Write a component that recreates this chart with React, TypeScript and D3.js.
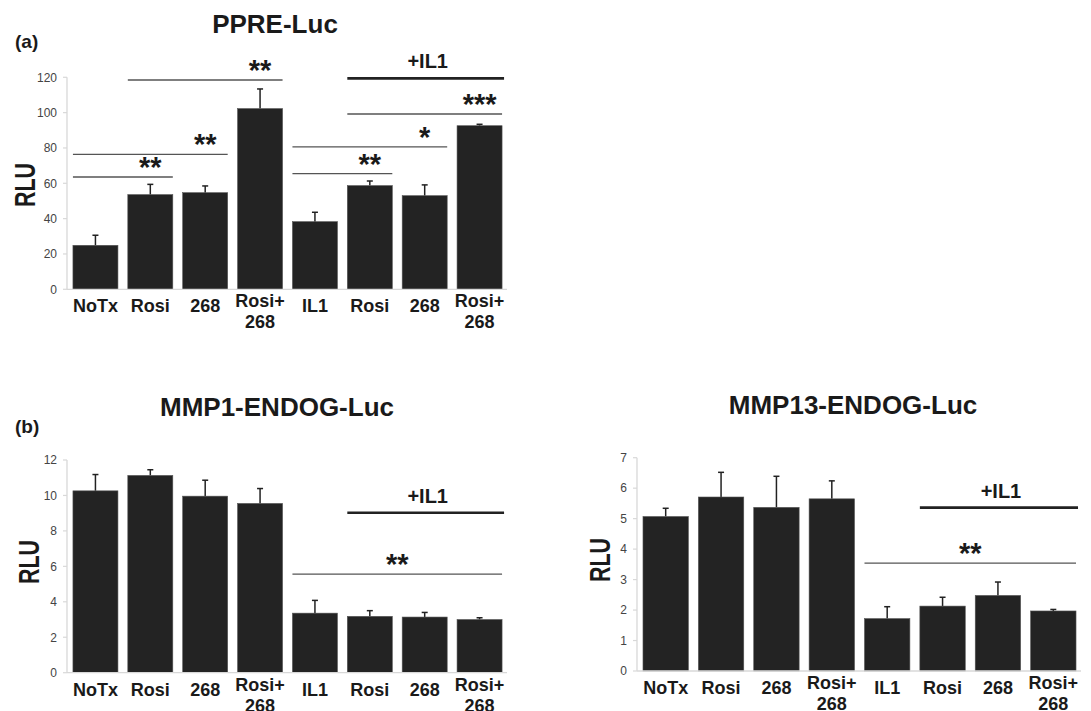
import React from 'react';
import * as d3 from 'd3';

const FONT = '"Liberation Sans", Arial, Helvetica, sans-serif';

const catLabels: string[][] = [['NoTx'], ['Rosi'], ['268'], ['Rosi+', '268'], ['IL1'], ['Rosi'], ['268'], ['Rosi+', '268']];

// PPRE-Luc
const ppreValues = [24.9, 53.6, 54.7, 102.3, 38.3, 58.7, 53.0, 92.6];
const ppreErr = [5.7, 5.8, 3.8, 11.1, 5.3, 2.6, 6.1, 0.8];
const ppreTicks = [0, 20, 40, 60, 80, 100, 120];

// MMP1-ENDOG-Luc
const mmp1Values = [10.26, 11.13, 9.96, 9.55, 3.36, 3.18, 3.14, 3.0];
const mmp1Err = [0.92, 0.32, 0.9, 0.84, 0.72, 0.32, 0.26, 0.1];
const mmp1Ticks = [0, 2, 4, 6, 8, 10, 12];

// MMP13-ENDOG-Luc
const mmp13Values = [5.07, 5.71, 5.37, 5.65, 1.72, 2.13, 2.48, 1.97];
const mmp13Err = [0.27, 0.81, 1.02, 0.59, 0.39, 0.29, 0.44, 0.05];
const mmp13Ticks = [0, 1, 2, 3, 4, 5, 6, 7];

interface Sig { from: number; to: number; y: number; label: string; at: 'end' | 'mid'; }

const ppreSig: Sig[] = [
  { from: 0, to: 1, y: 63.6, label: '**', at: 'end' },
  { from: 0, to: 2, y: 76.4, label: '**', at: 'end' },
  { from: 1, to: 3, y: 118.5, label: '**', at: 'end' },
  { from: 4, to: 6, y: 80.6, label: '*', at: 'end' },
  { from: 4, to: 5, y: 65.5, label: '**', at: 'end' },
  { from: 5, to: 7, y: 99.2, label: '***', at: 'end' },
];
const mmp1Sig: Sig[] = [{ from: 4, to: 7, y: 5.56, label: '**', at: 'mid' }];
const mmp13Sig: Sig[] = [{ from: 4, to: 7, y: 3.54, label: '**', at: 'mid' }];

// +IL1 bracket: from, to, value
const ppreIL1 = { from: 5, to: 7, y: 119.4 };
const mmp1IL1 = { from: 5, to: 7, y: 9.02 };
const mmp13IL1 = { from: 5, to: 7, y: 5.36 };

interface PanelProps {
  title: string;
  titleX: number;
  titleY: number;
  tag?: string;
  tagY?: number;
  x0: number;
  x1: number;
  yTop: number;
  yBottom: number;
  ticks: number[];
  values: number[];
  errs: number[];
  sigs: Sig[];
  il1: { from: number; to: number; y: number };
  ylabelX: number;
  ylabelY: number;
}

function Panel(p: PanelProps) {
  const max = p.ticks[p.ticks.length - 1];
  const x = d3.scaleBand<number>()
    .domain(d3.range(p.values.length))
    .range([p.x0 + 1, p.x1])
    .paddingInner(0.18)
    .paddingOuter(0.09);
  const y = d3.scaleLinear().domain([0, max]).range([p.yBottom, p.yTop]);
  const bw = x.bandwidth();

  return (
    <g fontFamily={FONT}>
      <text x={p.titleX} y={p.titleY} textAnchor="middle" fontSize={26} fontWeight="bold" fill="#1a1a1a">{p.title}</text>
      {p.tag && <text x={15} y={p.tagY} fontSize={19} fontWeight="bold" fill="#1a1a1a">{p.tag}</text>}

      {/* y axis */}
      <line x1={p.x0} x2={p.x0} y1={y(max)} y2={y(0)} stroke="#d8d8d8" strokeWidth={1.3} />
      {p.ticks.map(t => (
        <g key={t}>
          <line x1={p.x0 - 4} x2={p.x0} y1={y(t)} y2={y(t)} stroke="#d8d8d8" strokeWidth={1.2} />
          <text x={p.x0 - 10} y={y(t)} dy="0.36em" textAnchor="end" fontSize={12} fill="#444">{t}</text>
        </g>
      ))}
      <text transform={`translate(${p.ylabelX},${p.ylabelY}) rotate(-90)`} textAnchor="middle" fontSize={29}
        fontWeight="bold" fill="#1a1a1a" textLength={44} lengthAdjust="spacingAndGlyphs">RLU</text>

      {/* bars */}
      {p.values.map((v, i) => (
        <g key={i}>
          <line x1={x(i)! + bw / 2} x2={x(i)! + bw / 2} y1={y(v)} y2={y(v + p.errs[i])} stroke="#222" strokeWidth={1.5} />
          <line x1={x(i)! + bw / 2 - 3} x2={x(i)! + bw / 2 + 3} y1={y(v + p.errs[i])} y2={y(v + p.errs[i])} stroke="#222" strokeWidth={1.5} />
          <rect x={x(i)} y={y(v)} width={bw} height={y(0) - y(v)} fill="#232323" stroke="#555" strokeWidth={0.6} />
        </g>
      ))}

      {/* x axis */}
      <line x1={p.x0} x2={p.x1} y1={y(0)} y2={y(0)} stroke="#d8d8d8" strokeWidth={1.3} />
      {catLabels.map((lines, i) => (
        <text key={i} x={x(i)! + bw / 2} textAnchor="middle" fontSize={18} fontWeight="bold" fill="#1a1a1a">
          {lines.map((l, j) => (
            <tspan key={j} x={x(i)! + bw / 2} y={y(0) + (lines.length > 1 ? 18 + j * 21 : 23)}>{l}</tspan>
          ))}
        </text>
      ))}

      {/* significance */}
      {p.sigs.map((s, k) => {
        const xs = x(s.from)!;
        const xe = x(s.to)! + bw;
        const lx = s.at === 'end' ? x(s.to)! + bw / 2 : (xs + xe) / 2;
        return (
          <g key={k}>
            <line x1={xs} x2={xe} y1={y(s.y)} y2={y(s.y)} stroke="#555" strokeWidth={1.4} />
            <text x={lx} y={y(s.y) + 16} textAnchor="middle" fontSize={29} fontWeight="bold" fill="#1a1a1a"
              dy="-0.55em">{s.label}</text>
          </g>
        );
      })}

      {/* +IL1 */}
      <line x1={x(p.il1.from)!} x2={x(p.il1.to)! + bw + 2} y1={y(p.il1.y)} y2={y(p.il1.y)} stroke="#222" strokeWidth={2.6} />
      <text x={(x(p.il1.from)! + x(p.il1.to)! + bw) / 2 + 3} y={y(p.il1.y) - 10} textAnchor="middle" fontSize={20}
        fontWeight="bold" fill="#1a1a1a">+IL1</text>
    </g>
  );
}

export default function App() {
  return (
    <svg width={1091} height={711} style={{ position: 'absolute', left: 0, top: 0, background: '#fff' }}>
      <rect width={1091} height={711} fill="#fff" />
      <Panel title="PPRE-Luc" titleX={275} titleY={33} tag="(a)" tagY={48}
        x0={67} x1={507} yTop={77.3} yBottom={289.3} ticks={ppreTicks}
        values={ppreValues} errs={ppreErr} sigs={ppreSig} il1={ppreIL1} ylabelX={35} ylabelY={185} />
      <Panel title="MMP1-ENDOG-Luc" titleX={277} titleY={416} tag="(b)" tagY={433}
        x0={67} x1={507} yTop={460} yBottom={672.7} ticks={mmp1Ticks}
        values={mmp1Values} errs={mmp1Err} sigs={mmp1Sig} il1={mmp1IL1} ylabelX={39} ylabelY={562} />
      <Panel title="MMP13-ENDOG-Luc" titleX={853} titleY={414}
        x0={637} x1={1081} yTop={457.7} yBottom={671} ticks={mmp13Ticks}
        values={mmp13Values} errs={mmp13Err} sigs={mmp13Sig} il1={mmp13IL1} ylabelX={610} ylabelY={560} />
    </svg>
  );
}
